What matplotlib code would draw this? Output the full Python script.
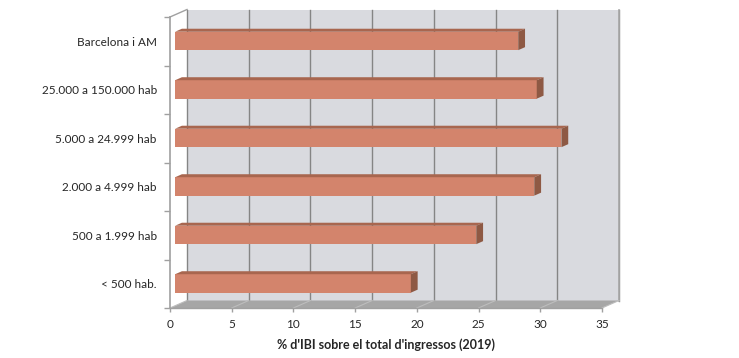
"""Share of IBI over total income (2019) by municipality size, Excel-style 3D bars."""

import matplotlib

matplotlib.use("Agg")
import matplotlib.pyplot as plt
from matplotlib.patches import Polygon

categories = [
    "Barcelona i AM",
    "25.000 a 150.000 hab",
    "5.000 a 24.999 hab",
    "2.000 a 4.999 hab",
    "500 a 1.999 hab",
    "< 500 hab.",
]
values = [27.8, 29.3, 31.3, 29.1, 24.4, 19.1]
x_ticks = [0, 5, 10, 15, 20, 25, 30, 35]
x_label = "% d'IBI sobre el total d'ingressos (2019)"

FACE = "#D3846C"
TOP = "#A8664F"
SIDE = "#8E5944"
WALL = "#D9DADF"
FLOOR = "#A6A6A6"
GRID = "#858585"
AXIS = "#A0A0A0"

plt.rcParams["font.family"] = ["Lato", "DejaVu Sans"]

W, H = 739, 358
fig = plt.figure(figsize=(W / 100, H / 100), dpi=100)
ax = fig.add_axes([170 / W, 50 / H, 432 / W, 291 / H])
xmax = x_ticks[-1]
n = len(categories)
ax.set_xlim(0, xmax)
ax.set_ylim(0, n)

# depth offset of the back wall, in data units
dx = 17 / (432 / xmax)
dy = 7.5 / (291 / n)

def poly(pts, color, z, ec="none", lw=0):
    ax.add_patch(Polygon(pts, closed=True, facecolor=color, edgecolor=ec,
                         linewidth=lw, zorder=z, clip_on=False))

# back wall and floor
poly([(dx, dy), (xmax + dx, dy), (xmax + dx, n + dy), (dx, n + dy)], WALL, 1)
poly([(0, 0), (xmax, 0), (xmax + dx, dy), (dx, dy)], FLOOR, 2)
for t in x_ticks:
    ax.plot([t + dx, t + dx], [dy, n + dy], color=GRID, lw=1, zorder=1.5, clip_on=False)
    ax.plot([t, t + dx], [0, dy], color="#BDBDBD", lw=0.8, zorder=2.5, clip_on=False)
ax.plot([xmax + dx, xmax + dx], [dy, n + dy], color="#A8A8A8", lw=1.2, zorder=1.6, clip_on=False)
ax.plot([0, xmax], [0, 0], color=AXIS, lw=1, zorder=3, clip_on=False)
ax.plot([0, 0], [0, n], color=AXIS, lw=1.2, zorder=3, clip_on=False)
ax.plot([0, dx], [n, n + dy], color=AXIS, lw=1, zorder=3, clip_on=False)

# bars
f, d, h = 0.3, 0.4, 0.38
for i, v in enumerate(values):
    c = n - 0.5 - i
    x0 = f * dx
    yb = c - h / 2 + f * dy - 0.04
    yt = yb + h
    poly([(x0, yb), (x0 + v, yb), (x0 + v, yt), (x0, yt)], FACE, 5)
    poly([(x0, yt), (x0 + v, yt), (x0 + v + d * dx, yt + d * dy), (x0 + d * dx, yt + d * dy)], TOP, 5)
    poly([(x0 + v, yb), (x0 + v, yt), (x0 + v + d * dx, yt + d * dy), (x0 + v + d * dx, yb + d * dy)], SIDE, 5)

for s in ax.spines.values():
    s.set_visible(False)
ax.set_facecolor("none")

ax.set_yticks([n - 0.5 - i for i in range(n)])
ax.set_yticklabels(categories, fontsize=8.5, color="#262626")
ax.set_yticks(range(n + 1), minor=True)
ax.tick_params(axis="y", which="major", length=0, pad=9.5)
ax.tick_params(axis="y", which="minor", length=4, color=AXIS, width=1)

ax.set_xticks(x_ticks)
ax.set_xticklabels([str(t) for t in x_ticks], fontsize=8.5, color="#262626")
ax.tick_params(axis="x", length=3, color=AXIS, width=1, pad=5)
ax.set_xlabel(x_label, fontsize=9, fontweight="bold", color="#262626", labelpad=6)

fig.savefig("out.png", dpi=100)
